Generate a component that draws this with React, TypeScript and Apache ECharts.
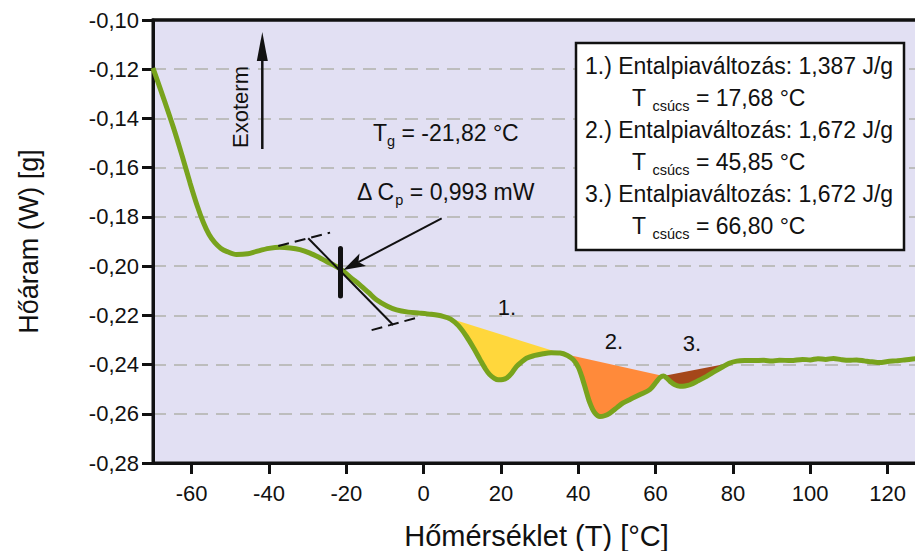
import React, { useEffect, useRef } from 'react';
import * as echarts from 'echarts';

const FONT = '"Liberation Sans", Arial, Helvetica, sans-serif';

// DSC curve: temperature [°C] and heat flow [W/g]
const temperature = [
  -70, -67, -64.8, -62.5, -60.4, -58.5, -57, -55.5, -54, -52.5, -51, -48.4, -45.5, -43.2, -40, -37.2,
  -34.5, -32, -29.4, -27, -25.1, -23, -21.2, -19, -16.5, -14.2, -12.2, -9.5, -7, -4, -1, 2, 5, 7, 9,
  11.1, 13, 14.6, 16, 17.1, 18.3, 19.3, 20.5, 21.5, 22.8, 24, 25.3, 26.6, 28.5, 30.9, 33, 35.3, 37.2,
  38.7, 40, 40.9, 42, 43, 44.2, 45.6, 46.8, 48.2, 50, 51.6, 53.5, 56, 58.5, 60.3, 61.2, 62, 62.9,
  63.7, 65, 66.3, 67.6, 68.9, 71, 73.2, 75.3, 77.5, 79, 81, 83, 85.3, 88, 90, 92, 95, 98, 100, 102,
  104, 106, 108, 110, 112, 114, 116, 118, 120, 122, 124, 126, 128.4,
];
const heatFlow = [
  -0.1195, -0.133, -0.1433, -0.155, -0.1663, -0.1758, -0.1822, -0.1872, -0.1905, -0.1927, -0.194,
  -0.1953, -0.195, -0.194, -0.1928, -0.1923, -0.1926, -0.1933, -0.1947, -0.1965, -0.1981, -0.1998,
  -0.2015, -0.2045, -0.2076, -0.2108, -0.2137, -0.2162, -0.2178, -0.2187, -0.2191, -0.2196, -0.2204,
  -0.2215, -0.2242, -0.2286, -0.2335, -0.238, -0.2418, -0.2441, -0.2456, -0.2462, -0.2461, -0.2455,
  -0.2435, -0.2408, -0.239, -0.2374, -0.2364, -0.2356, -0.2352, -0.2353, -0.2363, -0.238, -0.241,
  -0.2448, -0.2505, -0.2556, -0.2595, -0.2611, -0.2608, -0.2597, -0.2575, -0.2556, -0.2541, -0.2522,
  -0.2502, -0.2468, -0.2452, -0.2447, -0.2455, -0.2468, -0.2482, -0.2488, -0.2487, -0.2482, -0.2466,
  -0.2448, -0.2428, -0.2408, -0.2395, -0.2386, -0.2384, -0.2384, -0.2383, -0.2386, -0.2382, -0.2384,
  -0.2379, -0.2381, -0.2376, -0.2379, -0.2375, -0.238, -0.2383, -0.2381, -0.2385, -0.2389, -0.2392,
  -0.2388, -0.2385, -0.2382, -0.2378, -0.2375,
];

// Peak integration baselines (start point, end point)
const peak1Baseline = [[5, -0.2204], [35.3, -0.2353]];
const peak2Baseline = [[35.3, -0.2353], [62, -0.2447]];
const peak3Baseline = [[62, -0.2447], [79, -0.2395]];
const peakColors = ['#FFD73C', '#FF8A3A', '#A5471A'];

// Glass transition construction
const upperTangent = [[-37.6, -0.1918], [-24.2, -0.1864]];
const steepTangent = [[-29.85, -0.1887], [-7.86, -0.2239]];
const lowerTangent = [[-13.45, -0.226], [-1.4, -0.2208]];
const tgMarker = [[-21.5, -0.1928], [-21.5, -0.2121]];

const xTicks = [-60, -40, -20, 0, 20, 40, 60, 80, 100, 120];

const legendRows = [
  '{m|1.) Entalpiaváltozás: 1,387 J/g}',
  '{m|T }{s|csúcs}{m| = 17,68 °C}',
  '{m|2.) Entalpiaváltozás: 1,672 J/g}',
  '{m|T }{s|csúcs}{m| = 45,85 °C}',
  '{m|3.) Entalpiaváltozás: 1,672 J/g}',
  '{m|T }{s|csúcs}{m| = 66,80 °C}',
];

const rich = {
  m: { fontSize: 23, fontFamily: FONT, fill: '#111', lineHeight: 30, verticalAlign: 'middle' },
  s: { fontSize: 14.5, fontFamily: FONT, fill: '#111', lineHeight: 14, verticalAlign: 'bottom' },
};

function peakPolygon(base: number[][]) {
  const [s, e] = base;
  const pts: number[][] = [s];
  for (let i = 0; i < temperature.length; i++) {
    if (temperature[i] > s[0] && temperature[i] < e[0]) pts.push([temperature[i], heatFlow[i]]);
  }
  pts.push(e);
  return pts;
}

function arrowHead(x0: number, y0: number, x1: number, y1: number, len: number, half: number, notch: number) {
  const dx = x1 - x0, dy = y1 - y0;
  const l = Math.hypot(dx, dy);
  const ux = dx / l, uy = dy / l;
  const nx = -uy, ny = ux;
  const bx = x1 - ux * len, by = y1 - uy * len;
  return {
    points: [
      [x1, y1],
      [bx + nx * half, by + ny * half],
      [x1 - ux * (len - notch), y1 - uy * (len - notch)],
      [bx - nx * half, by - ny * half],
    ],
    lineEnd: [x1 - ux * (len - notch), y1 - uy * (len - notch)],
  };
}

export default function App() {
  const ref = useRef<HTMLDivElement>(null);
  useEffect(() => {
    if (!ref.current) return;
    const chart = echarts.init(ref.current, null, { renderer: 'svg' });
    const curve = temperature.map((t, i) => [t, heatFlow[i]]);
    const peaks = [peak1Baseline, peak2Baseline, peak3Baseline];

    const fillSeries = peaks.map((b, k) => ({
      type: 'custom',
      coordinateSystem: 'cartesian2d',
      silent: true,
      z: 2,
      data: [b[0]],
      renderItem: (_p: any, api: any) => {
        const pts = peakPolygon(b).map((p) => api.coord(p));
        return { type: 'polygon', shape: { points: pts }, style: { fill: peakColors[k] } };
      },
    }));

    const thinLine = (data: number[][], dashed: boolean, width = 2) => ({
      type: 'line',
      data,
      silent: true,
      showSymbol: false,
      symbol: 'none',
      z: 6,
      lineStyle: { color: '#111', width, type: dashed ? [11, 6] : 'solid' },
    });

    const dcpArrow = arrowHead(441.7, 218.3, 343.3, 270, 22, 7, 5);

    const graphic: any[] = [
      // top frame of the plot area
      { type: 'line', z: 100, shape: { x1: 152, y1: 20, x2: 915, y2: 20 }, style: { stroke: '#111', lineWidth: 3 } },
      { type: 'line', z: 100, shape: { x1: 262.3, y1: 149, x2: 262.3, y2: 55 }, style: { stroke: '#111', lineWidth: 2.5 } },
      { type: 'polygon', z: 100, shape: { points: [[262.3, 32], [256.8, 61], [267.8, 61]] }, style: { fill: '#111' } },
      {
        type: 'text', z: 100, x: 240, y: 107, rotation: Math.PI / 2,
        style: { text: 'Exoterm', fontSize: 22, fontFamily: FONT, fill: '#111', align: 'center', verticalAlign: 'middle' },
      },
      {
        type: 'line', z: 100,
        shape: { x1: 441.7, y1: 218.3, x2: dcpArrow.lineEnd[0], y2: dcpArrow.lineEnd[1] },
        style: { stroke: '#111', lineWidth: 2 },
      },
      { type: 'polygon', z: 100, shape: { points: dcpArrow.points }, style: { fill: '#111' } },
      {
        type: 'text', z: 100, x: 373, y: 133,
        style: { text: '{m|T}{s|g}{m| = -21,82 °C}', rich, align: 'left', verticalAlign: 'middle' },
      },
      {
        type: 'text', z: 100, x: 357, y: 192,
        style: { text: '{m|Δ C}{s|p}{m| = 0,993 mW}', rich, align: 'left', verticalAlign: 'middle' },
      },
      ...[['1.', 507, 307], ['2.', 614, 341], ['3.', 692, 343]].map(([t, x, y]) => ({
        type: 'text', z: 100, x, y,
        style: { text: t, fontSize: 22, fontFamily: FONT, fill: '#111', align: 'center', verticalAlign: 'middle' },
      })),
      {
        type: 'rect', z: 100,
        shape: { x: 576, y: 43, width: 328, height: 207 },
        style: { fill: '#fff', stroke: '#111', lineWidth: 2.5 },
      },
      ...legendRows.map((r, i) => ({
        type: 'text', z: 101, x: i % 2 === 0 ? 585 : 632, y: 66 + i * 32,
        style: { text: r, rich, align: 'left', verticalAlign: 'middle' },
      })),
    ];

    chart.setOption({
      animation: false,
      grid: {
        left: 153, right: -5, top: 20, bottom: 88,
        outerBoundsMode: 'none', containLabel: false,
        show: true, backgroundColor: '#E2E0F3', borderColor: '#111', borderWidth: 3,
      },
      xAxis: {
        type: 'value', min: -70, max: 128.4,
        name: 'Hőmérséklet (T) [°C]', nameLocation: 'middle', nameGap: 58,
        nameTextStyle: { fontSize: 29, fontFamily: FONT, color: '#111' },
        axisLine: { onZero: false, lineStyle: { color: '#111', width: 3 } },
        axisTick: { customValues: xTicks, length: 11, lineStyle: { color: '#111', width: 3 } },
        axisLabel: { customValues: xTicks, fontSize: 22, fontFamily: FONT, color: '#111', margin: 19 },
        splitLine: { show: false },
      },
      yAxis: {
        type: 'value', min: -0.28, max: -0.1, interval: 0.02,
        name: 'Hőáram (W) [g]', nameLocation: 'middle', nameGap: 111, nameRotate: 90,
        nameTextStyle: { fontSize: 27, fontFamily: FONT, color: '#111' },
        axisLine: { onZero: false, lineStyle: { color: '#111', width: 3 } },
        axisTick: { length: 11, lineStyle: { color: '#111', width: 3 } },
        axisLabel: {
          fontSize: 22, fontFamily: FONT, color: '#111', margin: 14,
          formatter: (v: number) => v.toFixed(2).replace('.', ','),
        },
        splitLine: { show: true, lineStyle: { color: '#BDBDBD', width: 2, type: [13, 8] } },
      },
      series: [
        ...fillSeries,
        {
          type: 'line', data: curve, smooth: 0.3, showSymbol: false, symbol: 'none', silent: true, z: 5,
          lineStyle: { color: '#78A31D', width: 5 },
        },
        thinLine(upperTangent, true),
        thinLine(steepTangent, false),
        thinLine(lowerTangent, true),
        { ...thinLine(tgMarker, false, 5), lineStyle: { color: '#111', width: 5, cap: 'round' } },
      ],
      graphic,
    });
    return () => chart.dispose();
  }, []);
  return <div ref={ref} style={{ position: 'absolute', left: 0, top: 0, width: 915, height: 551 }} />;
}
